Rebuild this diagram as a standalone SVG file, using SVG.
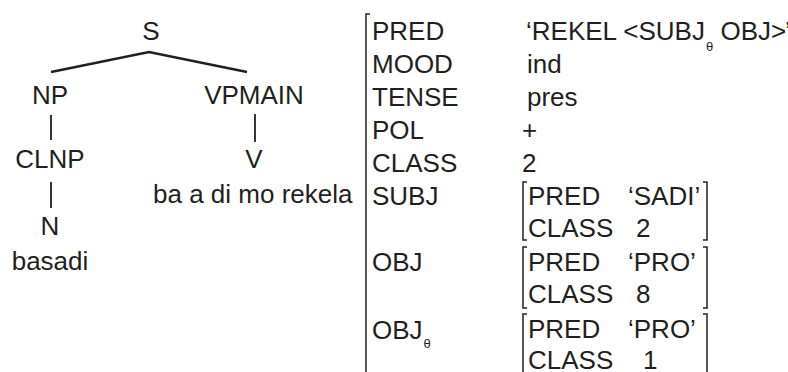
<svg xmlns="http://www.w3.org/2000/svg" width="788" height="372" viewBox="0 0 788 372">
<style>
text{font-family:"Liberation Sans",Arial,sans-serif;font-size:26px;fill:#231f20}
.c{text-anchor:middle}
.sub{font-size:13px}
.br{fill:none;stroke:#231f20;stroke-width:1.5}
.ln{fill:none;stroke:#231f20;stroke-width:1.8}
.th{fill:none;stroke:#231f20;stroke-width:2.6}
</style>
<rect width="788" height="372" fill="#fff"/>
<g id="connectors">
<polyline class="th" points="51,72 149,52 247,72"/>
<line class="ln" x1="51" y1="115" x2="51" y2="140"/>
<line class="ln" x1="255" y1="114" x2="255" y2="142"/>
<line class="ln" x1="51" y1="182" x2="51" y2="208"/>
</g>
<g id="node-S"><text class="c" x="151" y="40">S</text></g>
<g id="node-NP"><text class="c" x="50" y="104">NP</text></g>
<g id="node-VPMAIN"><text class="c" x="254" y="104">VPMAIN</text></g>
<g id="node-CLNP"><text class="c" x="50" y="168">CLNP</text></g>
<g id="node-V"><text class="c" x="254" y="168">V</text></g>
<g id="node-rekela"><text x="153" y="203">ba a di mo rekela</text></g>
<g id="node-N"><text class="c" x="50" y="235">N</text></g>
<g id="node-basadi"><text class="c" x="50" y="270">basadi</text></g>
<g id="avm">
<path class="br" d="M370,14 H366 V372"/>
<text x="372" y="40">PRED</text>
<text x="526" y="40">‘REKEL &lt;SUBJ<tspan class="sub" dx="1" dy="11">θ</tspan><tspan dy="-11"> OBJ&gt;</tspan><tspan x="785">’</tspan></text>
<text x="372" y="73">MOOD</text><text x="527" y="73">ind</text>
<text x="372" y="106">TENSE</text><text x="527" y="106">pres</text>
<text x="372" y="139">POL</text><text x="522" y="139">+</text>
<text x="372" y="172">CLASS</text><text x="522" y="172">2</text>
<text x="372" y="205">SUBJ</text>
<text x="372" y="271">OBJ</text>
<text x="372" y="339">OBJ<tspan class="sub" dx="1" dy="9">θ</tspan></text>
</g>
<g id="avm-subj">
<path class="br" d="M527,182 H523 V240 H527 M703,182 H707 V240 H703"/>
<text x="528" y="205">PRED</text><text x="628" y="205">‘SADI’</text>
<text x="528" y="237">CLASS</text><text x="636" y="237">2</text>
</g>
<g id="avm-obj">
<path class="br" d="M527,247 H523 V308 H527 M703,247 H707 V308 H703"/>
<text x="528" y="271">PRED</text><text x="628" y="271">‘PRO’</text>
<text x="528" y="303">CLASS</text><text x="636" y="303">8</text>
</g>
<g id="avm-objtheta">
<path class="br" d="M527,314 H523 V372 M703,314 H707 V372"/>
<text x="528" y="338">PRED</text><text x="628" y="338">‘PRO’</text>
<text x="528" y="369">CLASS</text><text x="643" y="369">1</text>
</g>
</svg>
